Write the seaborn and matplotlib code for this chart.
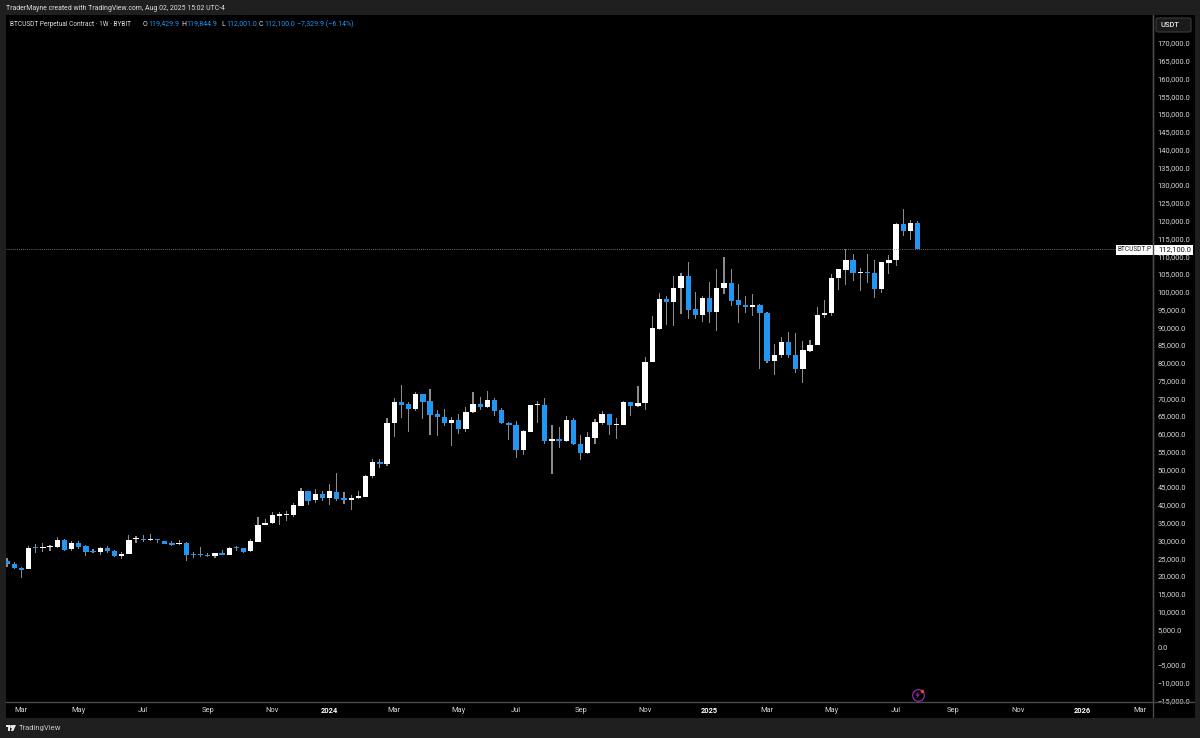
import numpy as np
import pandas as pd
import seaborn as sns
import matplotlib.pyplot as plt
from matplotlib.patches import Rectangle, FancyBboxPatch, Polygon

# Weekly candles, prices in thousands of USDT
opens = [24.2, 23.4, 22.3, 21.9, 28.0, 27.8, 28.1, 28.1, 30.1, 27.5,
         29.2, 28.4, 26.8, 26.6, 27.9, 27.1, 25.7, 26.3, 30.3, 30.4,
         30.0, 30.2, 29.9, 29.3, 28.9, 29.2, 26.2, 26.0, 25.9, 25.7,
         26.5, 26.0, 28.0, 27.8, 26.9, 29.6, 34.3, 34.8, 37.0, 37.2,
         37.2, 39.8, 43.8, 41.3, 43.0, 42.0, 43.7, 41.8, 41.4, 41.8,
         42.3, 48.1, 52.1, 51.5, 63.0, 68.9, 68.4, 66.9, 71.2, 69.1,
         65.5, 64.7, 63.0, 63.8, 61.3, 66.1, 68.4, 67.6, 69.5, 66.6,
         63.1, 62.6, 55.4, 60.5, 68.0, 68.2, 58.0, 58.5, 58.1, 64.0,
         57.1, 54.5, 58.8, 63.1, 65.5, 62.6, 62.6, 68.9, 67.7, 68.6,
         80.1, 89.6, 97.9, 97.0, 101.0, 104.3, 95.0, 93.5, 98.2, 94.3,
         101.0, 102.4, 97.7, 96.3, 95.8, 96.2, 94.1, 80.5, 82.3, 85.8,
         82.2, 78.2, 83.4, 84.9, 93.4, 93.9, 103.8, 106.2, 108.8, 105.3,
         105.6, 105.4, 100.7, 108.1, 108.9, 119.0, 117.1, 119.4299]
highs = [25.1, 23.8, 22.6, 28.4, 28.9, 29.2, 28.7, 30.9, 30.3, 29.9,
         29.8, 28.6, 27.5, 28.1, 28.4, 27.3, 26.7, 31.4, 31.2, 31.4,
         31.8, 30.4, 29.9, 29.9, 30.0, 29.6, 26.7, 28.1, 26.4, 26.5,
         27.4, 28.1, 28.5, 27.8, 30.3, 36.7, 35.9, 37.9, 37.9, 38.3,
         40.4, 44.8, 43.8, 44.4, 43.8, 45.8, 48.9, 43.5, 42.8, 43.8,
         48.3, 52.8, 52.9, 64.4, 70.1, 73.8, 69.0, 71.7, 71.2, 72.7,
         66.6, 67.1, 64.7, 65.5, 67.5, 71.9, 70.5, 72.0, 70.2, 67.3,
         63.3, 63.7, 61.1, 68.1, 69.3, 70.0, 62.5, 61.8, 64.9, 64.4,
         59.7, 60.5, 64.1, 66.4, 65.7, 64.5, 69.3, 69.0, 73.5, 81.5,
         93.3, 99.5, 98.8, 104.4, 105.2, 108.3, 99.8, 98.9, 102.6, 106.3,
         109.8, 106.3, 102.3, 98.7, 99.4, 96.4, 94.3, 85.3, 87.3, 88.6,
         88.3, 86.0, 86.4, 95.7, 97.8, 104.9, 106.5, 112.0, 110.6, 106.7,
         110.6, 108.9, 108.4, 110.2, 119.2, 123.2, 120.2, 119.8449]
lows = [22.6, 21.9, 19.4, 21.9, 26.5, 26.6, 27.1, 28.0, 27.0, 27.0,
        27.7, 25.7, 26.4, 25.9, 26.5, 25.3, 24.7, 26.2, 29.4, 29.6,
        29.8, 29.3, 28.9, 28.5, 28.6, 24.2, 25.1, 25.2, 25.2, 25.0,
        25.9, 25.9, 27.1, 26.5, 26.8, 29.6, 34.2, 34.6, 34.4, 35.6,
        36.7, 39.8, 40.1, 40.4, 41.2, 40.1, 41.2, 40.2, 38.6, 41.6,
        42.2, 47.7, 50.5, 51.0, 59.1, 64.5, 60.6, 66.3, 64.3, 59.8,
        59.5, 62.3, 56.5, 60.0, 60.6, 66.0, 66.6, 67.4, 65.0, 62.8,
        58.3, 53.3, 54.0, 60.4, 63.1, 57.2, 48.7, 56.0, 57.6, 56.8,
        52.5, 54.3, 57.2, 62.5, 59.7, 58.6, 62.4, 65.1, 67.5, 66.7,
        80.1, 89.3, 90.6, 90.4, 93.8, 92.2, 92.4, 91.4, 91.1, 89.0,
        99.4, 95.9, 91.1, 93.9, 93.3, 78.2, 79.8, 76.5, 81.2, 81.4,
        77.0, 74.3, 83.1, 84.9, 92.7, 93.3, 100.5, 101.9, 102.9, 100.2,
        102.5, 98.1, 99.5, 105.0, 107.3, 115.7, 114.6, 112.001]
closes = [23.3, 22.1, 21.8, 27.9, 27.8, 28.1, 28.3, 30.0, 27.4, 29.2,
          28.2, 26.7, 26.6, 27.9, 26.9, 25.6, 26.3, 30.2, 30.5, 30.1,
          30.1, 30.0, 29.1, 28.8, 29.3, 26.0, 25.9, 25.8, 25.7, 26.4,
          26.0, 27.9, 27.8, 26.8, 29.7, 34.4, 34.9, 37.1, 37.4, 37.4,
          40.0, 43.8, 41.2, 43.0, 42.0, 43.8, 41.6, 41.5, 42.0, 42.5,
          48.2, 52.1, 51.5, 63.0, 68.9, 68.2, 67.0, 71.3, 69.0, 65.4,
          64.7, 63.0, 63.9, 61.3, 66.1, 68.3, 67.6, 69.5, 66.4, 63.0,
          62.5, 55.5, 60.7, 68.0, 68.4, 57.9, 58.5, 58.1, 64.0, 57.0,
          54.6, 59.0, 63.4, 65.5, 62.6, 62.8, 68.9, 67.8, 68.7, 80.2,
          89.7, 97.9, 97.0, 101.1, 104.3, 94.9, 93.5, 98.2, 94.3, 101.1,
          102.4, 97.5, 96.3, 95.8, 96.3, 94.0, 80.5, 82.3, 85.8, 82.1,
          78.2, 83.6, 85.1, 93.5, 94.1, 103.9, 106.3, 108.8, 105.4, 105.6,
          105.3, 100.7, 108.3, 109.0, 119.0, 117.1, 119.2, 112.1]

tick_weeks = [2, 10, 19, 28, 37, 45, 54, 63, 71, 80, 89, 98, 106, 115, 124, 132, 141, 150, 158]
tick_names = ["Mar", "May", "Jul", "Sep", "Nov", "2024", "Mar", "May", "Jul", "Sep", "Nov",
              "2025", "Mar", "May", "Jul", "Sep", "Nov", "2026", "Mar"]
price_ticks = list(range(170000, -20000, -5000))

W, H = 1200, 738
BLUE = "#2196f3"
TEXT = "#d6d6d6"
LINE = "#4a4a4a"
FS = 5.4

sns.set_theme(style="dark")
plt.rcParams["font.family"] = ["Roboto", "DejaVu Sans"]


def fx(x):
    return x / W


def fy(y):
    return 1 - y / H


df = pd.DataFrame({"week": np.arange(len(opens)), "open": opens, "high": highs, "low": lows, "close": closes})
df[["open", "high", "low", "close"]] *= 1000
df["up"] = df["close"] >= df["open"]
df["wick"] = df["high"] - df["low"]
# tradingview never draws a body thinner than a pixel
df["body"] = (df["close"] - df["open"]).abs().clip(lower=300)
df["body_low"] = df[["open", "close"]].min(axis=1)

fig = plt.figure(figsize=(W / 100, H / 100), dpi=100, facecolor="#1f1f1f")
fig.patches.append(Rectangle((fx(6), fy(717.5)), fx(1188.5), 702.5 / H, transform=fig.transFigure,
                             facecolor="black", edgecolor="none", zorder=-5))

ax = fig.add_axes([fx(6), fy(702), fx(1147), 687 / H], facecolor="black")

# wicks, then bodies on top
sns.barplot(data=df, x="week", y="wick", native_scale=True, color="#8c8c8c", saturation=1, errorbar=None,
            width=0.16, bottom=df["low"].values, linewidth=0, ax=ax)
up = df[df["up"]]
down = df[~df["up"]]
sns.barplot(data=up, x="week", y="body", native_scale=True, color="white", saturation=1, errorbar=None,
            width=0.74, bottom=up["body_low"].values, linewidth=0, ax=ax)
sns.barplot(data=down, x="week", y="body", native_scale=True, color=BLUE, saturation=1, errorbar=None,
            width=0.74, bottom=down["body_low"].values, linewidth=0, ax=ax)

ax.axhline(df["close"].iloc[-1], color="#8f8f8f", lw=0.6, ls=(0, (1, 1.5)), zorder=1)

ax.set_xlim(-0.14, 159.83)
ax.set_ylim(-15480, 177880)
ax.set_xlabel("")
ax.set_ylabel("")
ax.grid(False)
ax.yaxis.tick_right()
ax.set_yticks(price_ticks)
ax.set_yticklabels([f"{p:,.1f}".replace("-", "\u2212") for p in price_ticks], color=TEXT, fontsize=FS)
ax.set_xticks(tick_weeks)
ax.set_xticklabels(tick_names, color=TEXT, fontsize=FS)
for lab in ax.get_xticklabels():
    if lab.get_text().isdigit():
        lab.set_fontweight("bold")
        lab.set_color("white")
ax.tick_params(axis="y", length=0, pad=3.4, right=False)
ax.tick_params(axis="x", length=0, pad=3.8, bottom=False)
for side in ["top", "left"]:
    ax.spines[side].set_visible(False)
for side in ["right", "bottom"]:
    ax.spines[side].set_visible(True)
    ax.spines[side].set_color(LINE)
    ax.spines[side].set_linewidth(1)

# extras in pixel positions
fig.add_artist(plt.Line2D([fx(1153), fx(1153)], [fy(15), fy(717)], color=LINE, lw=1))
fig.add_artist(plt.Line2D([fx(1153), fx(1194)], [fy(702), fy(702)], color=LINE, lw=1))


def label(x, y, s, color=TEXT, **kw):
    kw.setdefault("fontsize", FS)
    kw.setdefault("va", "center")
    return fig.text(fx(x), fy(y), s, color=color, **kw)


label(6, 8.5, "TraderMayne created with TradingView.com, Aug 02, 2025 15:02 UTC-4", color="#e0e0e0", fontsize=4.95)
label(10, 24, "BTCUSDT Perpetual Contract \u00b7 1W \u00b7 BYBIT", color="#e0e0e0", fontsize=4.7)
for x, s in [(143, "O"), (181, "H"), (221, "L"), (259, "C")]:
    label(x, 24, s, color="#e0e0e0", fontsize=5)
for x, s in [(148, "119,429.9"), (186, "119,844.9"), (226, "112,001.0"), (264, "112,100.0"),
             (297, "\u22127,329.9 (\u22126.14%)")]:
    label(x, 24, s, color=BLUE, fontsize=5)

# USDT button
fig.add_artist(FancyBboxPatch((fx(1156), fy(32)), fx(35), 14 / H, boxstyle="round,pad=0,rounding_size=0.002",
                              transform=fig.transFigure, facecolor="#1a1a1a", edgecolor="#3c3c3c", lw=0.8))
label(1160.5, 25, "USDT", color="#e6e6e6", fontweight="medium")

# last price badges
fig.add_artist(Rectangle((fx(1116), fy(255)), fx(37), 10 / H, transform=fig.transFigure,
                         facecolor="white", edgecolor="none"))
fig.add_artist(Rectangle((fx(1153.5), fy(255)), fx(39.5), 10 / H, transform=fig.transFigure,
                         facecolor="white", edgecolor="none"))
label(1118, 250, "BTCUSDT.P", color="#202020", fontsize=4.7)
label(1158, 250, "112,100.0", color="#111111")

# lightning marker
fig.add_artist(plt.Line2D([fx(917.7)], [fy(695)], marker="o", ms=8.4, mfc="none", mec="#8a2ea8", mew=0.9))
fig.add_artist(Polygon([(fx(919), fy(691.5)), (fx(915.2), fy(695.5)), (fx(917.5), fy(695.5)), (fx(916.4), fy(698.5)),
                        (fx(920), fy(694.5)), (fx(917.8), fy(694.5))], transform=fig.transFigure,
                       facecolor="#8a2ea8", edgecolor="none"))
fig.add_artist(plt.Line2D([fx(921.7)], [fy(690.7)], marker="o", ms=2.6, mfc="#f23645", mec="none"))

# footer logo and name
fig.add_artist(Polygon([(fx(6), fy(725)), (fx(10), fy(725)), (fx(10), fy(731)), (fx(8), fy(731)), (fx(8), fy(727)),
                        (fx(6), fy(727))], transform=fig.transFigure, facecolor="#e8e8e8", edgecolor="none"))
fig.add_artist(plt.Line2D([fx(11)], [fy(726)], marker="o", ms=2.2, mfc="#e8e8e8", mec="none"))
fig.add_artist(Polygon([(fx(12.5), fy(725)), (fx(16), fy(725)), (fx(13.3), fy(731)), (fx(11), fy(731))],
                       transform=fig.transFigure, facecolor="#e8e8e8", edgecolor="none"))
label(19, 728, "TradingView", color="#c8c8c8", fontsize=5.5)

fig.savefig("out.png", dpi=100, facecolor=fig.get_facecolor())
